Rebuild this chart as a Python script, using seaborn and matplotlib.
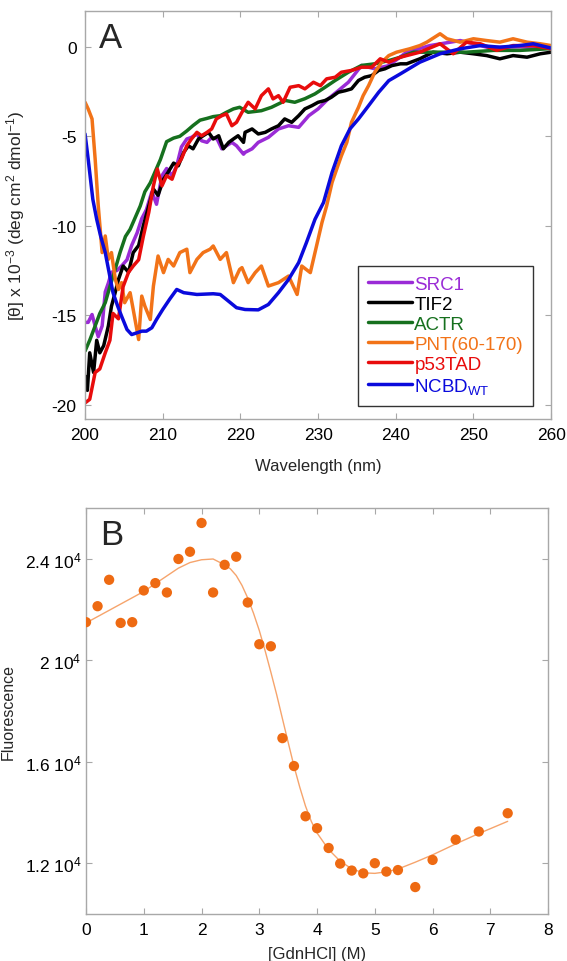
import numpy as np
import pandas as pd
import seaborn as sns
import matplotlib
matplotlib.use("Agg")
import matplotlib.pyplot as plt

# ---- panel A : CD spectra (values x 10^-3) ----
src1_wl = [200, 200.4, 200.9, 201.3, 201.7, 202.2, 202.6, 203.0, 203.4, 204.1, 204.7, 205.4, 206.0, 206.7,
           207.3, 207.9, 208.6, 209.2, 209.9, 210.5, 211.2, 211.8, 212.4, 213.1, 213.7, 214.4, 215.0, 215.7,
           216.3, 217.0, 217.6, 218.2, 218.9, 219.5, 220.4, 220.6, 221.5, 222.3, 223.6, 224.9, 226.2, 227.5,
           228.8, 230.0, 231.3, 232.6, 233.9, 235.6, 237.3, 239.1, 241.4, 244.4, 248.3, 252, 256, 260]
src1_val = [-15.4, -15.4, -14.96, -15.6, -16.2, -15.6, -13.7, -13.2, -12.6, -12.5, -12.25, -11.9, -11.1, -10.4,
            -9.6, -9.1, -8.1, -8.8, -7.2, -6.8, -7.2, -6.65, -5.6, -5.15, -5.06, -4.87, -5.25, -5.34,
            -5.06, -5.15, -5.7, -5.53, -5.34, -5.53, -6.0, -5.9, -5.7, -5.34, -5.06, -4.59, -4.41, -4.5,
            -3.85, -3.47, -2.91, -2.45, -1.98, -1.04, -1.23, -1.05, -0.3, 0.07, 0.35, -0.05, 0.0, -0.1]

tif2_wl = [200, 200.3, 200.6, 201.1, 201.5, 201.9, 202.4, 203.0, 203.4, 203.9, 204.3, 204.9, 205.6, 206.2,
           206.9, 207.5, 208.2, 208.8, 209.4, 210.1, 210.7, 211.4, 212.0, 212.7, 213.3, 213.9, 214.6, 215.2,
           215.9, 216.5, 217.2, 217.8, 218.5, 219.1, 219.7, 220.4, 220.6, 221.5, 222.3, 223.2, 224.0, 224.9,
           225.7, 226.6, 227.5, 228.3, 229.2, 230.0, 230.9, 231.7, 232.6, 233.5, 234.3, 235.2, 236.0, 236.9,
           237.8, 238.6, 239.5, 240.6, 241.4, 243.1, 244.8, 246.6, 248.3, 250.0, 251.7, 253.4, 255.1, 256.9,
           258.6, 260]
tif2_val = [-18.4, -19.2, -17.1, -18.2, -16.4, -17.1, -16.7, -15.6, -14.5, -13.7, -13.0, -12.25, -12.6, -11.5,
            -11.1, -10.0, -8.9, -7.95, -8.3, -7.4, -7.0, -6.5, -6.65, -5.9, -5.53, -5.7, -5.15, -4.97,
            -4.78, -5.15, -4.97, -5.7, -5.34, -5.15, -4.97, -5.34, -4.78, -4.59, -4.87, -4.78, -4.59, -4.41,
            -4.03, -4.22, -3.85, -3.47, -3.29, -3.1, -3.0, -2.82, -2.54, -2.45, -2.35, -1.88, -1.70, -1.61,
            -1.32, -1.23, -1.05, -0.95, -0.95, -0.67, -0.30, -0.39, -0.3, -0.39, -0.49, -0.67, -0.49, -0.58,
            -0.39, -0.3]

actr_wl = [200, 200.6, 201.3, 201.9, 202.6, 203.2, 203.9, 204.5, 205.2, 205.8, 206.4, 207.1, 207.7, 208.4,
           209.0, 209.7, 210.5, 211.4, 212.2, 213.1, 213.9, 214.8, 215.7, 216.5, 217.4, 218.2, 219.1, 219.9,
           221.0, 222.7, 224.0, 225.8, 227.0, 228.3, 229.6, 230.9, 232.2, 233.9, 235.6, 237.3, 239.1, 240.6,
           242.3, 245.7, 249.1, 252.6, 256, 260]
actr_val = [-17.0, -16.4, -15.6, -14.9, -14.3, -13.4, -12.4, -11.5, -10.6, -10.2, -9.6, -8.9, -8.1, -7.6,
            -7.0, -6.3, -5.3, -5.1, -5.0, -4.7, -4.4, -4.1, -4.0, -3.9, -3.85, -3.66, -3.47, -3.38,
            -3.66, -3.57, -3.38, -3.0, -3.1, -2.9, -2.63, -2.26, -1.88, -1.42, -1.04, -0.95, -0.77, -0.58,
            -0.3, -0.3, -0.3, -0.2, -0.2, -0.1]

pnt_wl = [200, 200.4, 200.9, 201.3, 201.7, 202.2, 202.6, 203.0, 203.4, 203.9, 204.3, 204.7, 205.1, 205.8,
          206.2, 206.9, 207.3, 207.7, 208.4, 208.8, 209.4, 210.1, 210.7, 211.4, 212.2, 213.1, 213.5, 214.4,
          215.2, 216.1, 216.5, 217.4, 218.2, 219.1, 219.9, 220.2, 221.0, 221.9, 222.7, 223.6, 224.9, 226.2,
          227.3, 227.9, 229.0, 229.8, 230.5, 231.1, 231.8, 232.4, 233.0, 233.7, 234.3, 235.2, 235.8, 236.5,
          237.3, 238.2, 239.1, 240.1, 241.8, 243.1, 244.0, 245.7, 246.6, 248.3, 250.0, 251.7, 253.4, 255.1,
          256.9, 258.6, 260]
pnt_val = [-3.1, -3.47, -4.03, -6.27, -8.89, -11.5, -10.57, -11.88, -11.5, -13.0, -13.56, -13.18, -14.3, -13.74,
           -14.68, -16.36, -13.93, -14.49, -15.24, -13.37, -11.69, -12.62, -11.88, -12.25, -11.5, -11.31, -12.62, -11.88,
           -11.5, -11.31, -11.13, -11.88, -11.5, -13.18, -12.44, -12.34, -13.18, -12.62, -12.25, -13.37, -13.18, -12.81,
           -13.84, -12.25, -12.62, -11.13, -9.82, -8.89, -7.58, -6.83, -6.09, -5.34, -4.22, -3.38, -2.73, -2.17,
           -1.42, -0.86, -0.49, -0.3, -0.11, 0.07, 0.26, 0.73, 0.45, 0.26, 0.45, 0.35, 0.26, 0.45,
           0.26, 0.17, 0.07]

p53_wl = [200, 200.6, 201.3, 201.9, 202.6, 203.2, 203.6, 204.3, 204.9, 205.6, 206.2, 206.9, 207.5, 208.2,
          208.8, 209.3, 209.9, 210.5, 211.2, 211.8, 212.4, 213.1, 213.7, 214.4, 215.0, 215.7, 216.3, 216.9,
          217.6, 218.2, 218.9, 219.5, 220.2, 221.0, 221.9, 222.7, 223.6, 224.2, 224.9, 225.5, 226.4, 227.5,
          228.3, 229.4, 230.3, 231.1, 232.2, 233.0, 234.3, 235.6, 236.9, 238.0, 239.1, 240.6, 243.1, 245.7,
          247.4, 249.1, 250.9, 253.0, 255.1, 257.7, 260]
p53_val = [-19.9, -19.7, -18.2, -18.0, -17.1, -16.4, -14.9, -15.2, -13.4, -12.6, -12.25, -11.9, -10.6, -9.26,
           -7.77, -6.83, -7.77, -7.2, -7.4, -6.65, -6.27, -5.53, -5.15, -4.78, -4.97, -4.78, -4.59, -4.03,
           -3.85, -3.75, -4.41, -4.22, -3.66, -3.1, -3.47, -2.73, -2.35, -2.91, -2.73, -3.1, -2.26, -2.17,
           -2.35, -1.98, -2.17, -1.79, -1.70, -1.42, -1.32, -1.14, -1.14, -0.67, -0.86, -0.58, -0.3, 0.17,
           -0.39, 0.26, 0.17, -0.2, 0.07, 0.07, -0.11]

ncbd_wl = [200, 200.4, 201, 201.5, 202, 202.6, 203.1, 203.6, 204.2, 204.7, 205.4, 206, 206.7, 207.3,
           207.9, 208.6, 209.2, 210, 210.9, 211.8, 212.7, 214.4, 216.5, 217.4, 218.2, 219.5, 220.6, 222.3,
           223.6, 224.9, 226.2, 227.5, 228.5, 229.6, 230.7, 231.8, 233, 234.1, 235.2, 236.5, 237.8, 239.1,
           240.6, 243.1, 245.7, 248.3, 250.9, 253.4, 256, 257.7, 260]
ncbd_val = [-4.87, -6.27, -8.52, -9.64, -10.57, -11.5, -12.62, -13.74, -14.49, -15.05, -15.8, -16.08, -15.98, -15.89,
            -15.89, -15.7, -15.24, -14.68, -14.1, -13.56, -13.74, -13.84, -13.8, -13.84, -14.12, -14.58, -14.68, -14.7,
            -14.4, -13.74, -13.0, -12.06, -10.94, -9.64, -8.7, -7.02, -5.53, -4.59, -4.03, -3.29, -2.54, -1.89,
            -1.51, -0.86, -0.39, -0.11, 0.07, -0.02, 0.07, 0.17, -0.07]

names = ["SRC1", "TIF2", "ACTR", "PNT(60-170)", "p53TAD", "NCBD$_{\\mathrm{WT}}$"]
colors = ["#9A2BD6", "#000000", "#16701E", "#F27318", "#E80C0C", "#0A0ADC"]

# ---- panel B : GdnHCl denaturation ----
gdn = [0, 0.2, 0.4, 0.6, 0.8, 1.0, 1.2, 1.4, 1.6, 1.8, 2.0, 2.2, 2.4, 2.6, 2.8, 3.0, 3.2,
       3.4, 3.6, 3.8, 4.0, 4.2, 4.4, 4.6, 4.8, 5.0, 5.2, 5.4, 5.7, 6.0, 6.4, 6.8, 7.3]
fluor = [21500, 22130, 23170, 21470, 21500, 22750, 23040, 22670, 23990, 24275, 25410, 22670, 23760, 24080,
         22275, 20630, 20550, 16930, 15830, 13850, 13380, 12600, 11985, 11710, 11600, 12000, 11670, 11730,
         11060, 12130, 12930, 13250, 13970]
fit_x = [0, 0.5, 1.0, 1.6, 1.8, 2.0, 2.2, 2.4, 2.5, 2.6, 2.7, 2.8, 2.9, 3.0, 3.1, 3.2, 3.3, 3.4, 3.5,
         3.6, 3.7, 3.8, 3.9, 4.0, 4.2, 4.4, 4.6, 4.8, 5.0, 5.2, 5.4, 5.7, 6.0, 6.4, 6.8, 7.3]
fit_y = [21470, 22090, 22710, 23630, 23850, 23960, 23990, 23760, 23600, 23340, 22950, 22450, 21850, 21170,
         20380, 19530, 18650, 17700, 16760, 15830, 15000, 14250, 13650, 13190, 12540, 12080, 11780, 11620,
         11600, 11660, 11770, 12040, 12330, 12760, 13170, 13650]
fl_ticks = [12000, 16000, 20000, 24000]
fl_labels = ["1.2 10$^4$", "1.6 10$^4$", "2 10$^4$", "2.4 10$^4$"]

sns.set_style("ticks")
plt.rcParams["font.family"] = ["Liberation Sans", "DejaVu Sans"]
plt.rcParams["mathtext.fontset"] = "custom"
plt.rcParams["mathtext.rm"] = "Liberation Sans"
plt.rcParams["mathtext.it"] = "Liberation Sans:italic"
plt.rcParams["axes.unicode_minus"] = False

fig = plt.figure(figsize=(5.67, 9.62), dpi=100)
ax1 = fig.add_axes([0.15, 0.5634, 0.822, 0.4241])
ax2 = fig.add_axes([0.1517, 0.0489, 0.815, 0.422])

frames = []
for nm, w, v in zip(names, [src1_wl, tif2_wl, actr_wl, pnt_wl, p53_wl, ncbd_wl],
                    [src1_val, tif2_val, actr_val, pnt_val, p53_val, ncbd_val]):
    frames.append(pd.DataFrame({"wl": w, "val": v, "sample": nm}))
cd = pd.concat(frames)

sns.lineplot(data=cd, x="wl", y="val", hue="sample", palette=dict(zip(names, colors)),
             estimator=None, lw=2.5, ax=ax1, legend=False)
for nm, c in zip(names, colors):
    ax1.plot([], [], color=c, lw=2.5, label=nm)

gray = "#a8a8a8"
for ax in (ax1, ax2):
    for s in ax.spines.values():
        s.set_color(gray)
        s.set_linewidth(1.0)
    ax.tick_params(direction="in", top=True, right=True, length=4, color=gray,
                   labelsize=12.5, labelcolor="black", pad=6)
ax2.tick_params(axis="y", pad=3)

ax1.set_xlim(200, 260)
ax1.set_ylim(-20.8, 2)
ax1.set_xticks(range(200, 261, 10))
ax1.set_yticks([-20, -15, -10, -5, 0])
ax1.set_xlabel("Wavelength (nm)", fontsize=12)
ax1.set_ylabel("[\u03b8] x 10$^{-3}$ (deg cm$^2$ dmol$^{-1}$)", fontsize=12.5)
ax1.xaxis.set_label_coords(0.5, -0.095)
ax1.yaxis.set_label_coords(-0.124, 0.5)
ax1.text(0.03, 0.975, "A", transform=ax1.transAxes, fontsize=25, va="top", ha="left")
leg = ax1.legend(loc="upper left", bbox_to_anchor=(0.586, 0.376), fontsize=13.5, frameon=True,
                 fancybox=False, edgecolor="black", handlelength=2.3, handletextpad=0.15,
                 labelspacing=0.15, borderpad=0.55, borderaxespad=0, labelcolor="linecolor")
leg.get_frame().set_linewidth(1.0)

sns.lineplot(x=fit_x, y=fit_y, color="#F6A46C", lw=1.0, ax=ax2, estimator=None, sort=False)
sns.scatterplot(x=gdn, y=fluor, color="#EE6A12", s=55, edgecolor="none", ax=ax2, zorder=3)
ax2.set_xlim(0, 8)
ax2.set_ylim(10000, 26000)
ax2.set_xticks(range(0, 9))
ax2.set_yticks(fl_ticks)
ax2.set_yticklabels(fl_labels)
ax2.set_xlabel("[GdnHCl] (M)", fontsize=12)
ax2.set_ylabel("Fluorescence", fontsize=11.5)
ax2.xaxis.set_label_coords(0.5, -0.08)
ax2.yaxis.set_label_coords(-0.153, 0.5)
ax2.text(0.03, 0.975, "B", transform=ax2.transAxes, fontsize=25, va="top", ha="left")

fig.savefig("out.png", dpi=100)
